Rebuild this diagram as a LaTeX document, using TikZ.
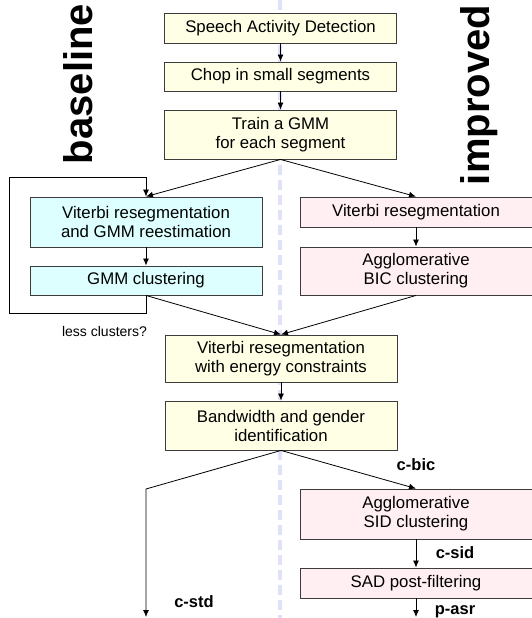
\documentclass[tikz,border=0pt]{standalone}
\usepackage{fontspec}
\setmainfont{Liberation Sans}
\usetikzlibrary{arrows.meta}
\definecolor{boxyellow}{RGB}{255,255,230}
\definecolor{boxcyan}{RGB}{221,255,255}
\definecolor{boxpink}{RGB}{255,238,242}
\definecolor{midline}{RGB}{222,225,248}
\definecolor{boxline}{RGB}{60,60,60}

\begin{document}
\begin{tikzpicture}[x=1pt, y=-1pt,
  box/.style={draw=boxline, line width=0.9pt, inner sep=0pt, align=center,
    minimum width=232, font=\fontsize{16.8}{19}\selectfont},
  common/.style={box, fill=boxyellow},
  base/.style={box, fill=boxcyan},
  impr/.style={box, fill=boxpink},
  flow/.style={line width=0.8pt, -{Latex[length=7pt,width=6pt]}},
  tag/.style={font=\fontsize{16.5}{19}\selectfont\bfseries},
  side/.style={rotate=90, anchor=base, font=\fontsize{40}{44}\selectfont\bfseries}]
  \def\cx{280.5}
  \def\lx{146}
  \def\rx{416}
  \useasboundingbox (0,0) rectangle (531,618);
  % separator
  \draw[midline, line width=4pt, dash pattern=on 10pt off 5pt] (280,0) -- (280,618);
  % titles
  \node[side] (tbase) at (92,84) {baseline};
  \node[side] (timpr) at (489,95) {improved};
  % common part
  \node[common, minimum height=30] (sad) at (\cx,28) {Speech Activity Detection};
  \node[common, minimum height=29] (chop) at (\cx,76.5) {Chop in small segments};
  \node[common, minimum height=49] (train) at (\cx,134.5) {Train a GMM\\for each segment};
  % baseline branch
  \node[base, minimum height=50] (vitl) at (\lx,222) {Viterbi resegmentation\\and GMM reestimation};
  \node[base, minimum height=29] (gmm) at (\lx,280.5) {GMM clustering};
  % improved branch
  \node[impr, minimum height=30] (vitr) at (\rx,212) {Viterbi resegmentation};
  \node[impr, minimum height=48] (bic) at (\rx,271) {Agglomerative\\BIC clustering};
  % back to common
  \node[common, minimum height=47] (vite) at (281,358.5) {Viterbi resegmentation\\with energy constraints};
  \node[common, minimum height=49] (bw) at (281,425.5) {Bandwidth and gender\\identification};
  \node[impr, minimum height=50] (sid) at (\rx,514) {Agglomerative\\SID clustering};
  \node[impr, minimum height=30] (sadpf) at (\rx,583) {SAD post-filtering};
  \coordinate (bend) at (\lx,489);
  \coordinate (cstd) at (\lx,617);
  \coordinate (pasr) at (\rx,617);
  \coordinate (loopl) at (9,177);

  \draw[flow] (sad) -- (chop);
  \draw[flow] (chop) -- (train);
  \draw[flow] (train.south) -- (vitl.north);
  \draw[flow] (train.south) -- (vitr.north);
  \draw[flow] (vitl) -- (gmm);
  \draw[flow] (vitr) -- (bic);
  %loop
  \draw[flow] (gmm.south) -- ++(0,18) -| (loopl) -| (vitl.north);
  \node[font=\fontsize{14}{16}\selectfont] (less) at (104.5,331) {less clusters?};
  \draw[flow] (gmm.south) -- (vite.north);
  \draw[flow] (bic.south) -- (vite.north);
  \draw[flow] (vite) -- (bw);
  \draw[flow] (bw.south) -- (bend) -- (cstd);
  \draw[flow] (bw.south) -- (sid.north);
  \draw[flow] (sid) -- (sadpf);
  \draw[flow] (sadpf.south) -- (pasr);
  % output labels
  \node[tag] (lbic) at (416,465) {c-bic};
  \node[tag] (lsid) at (455,553) {c-sid};
  \node[tag] (lasr) at (455,612) {p-asr};
  \node[tag] (lstd) at (194,602) {c-std};
\end{tikzpicture}
\end{document}
